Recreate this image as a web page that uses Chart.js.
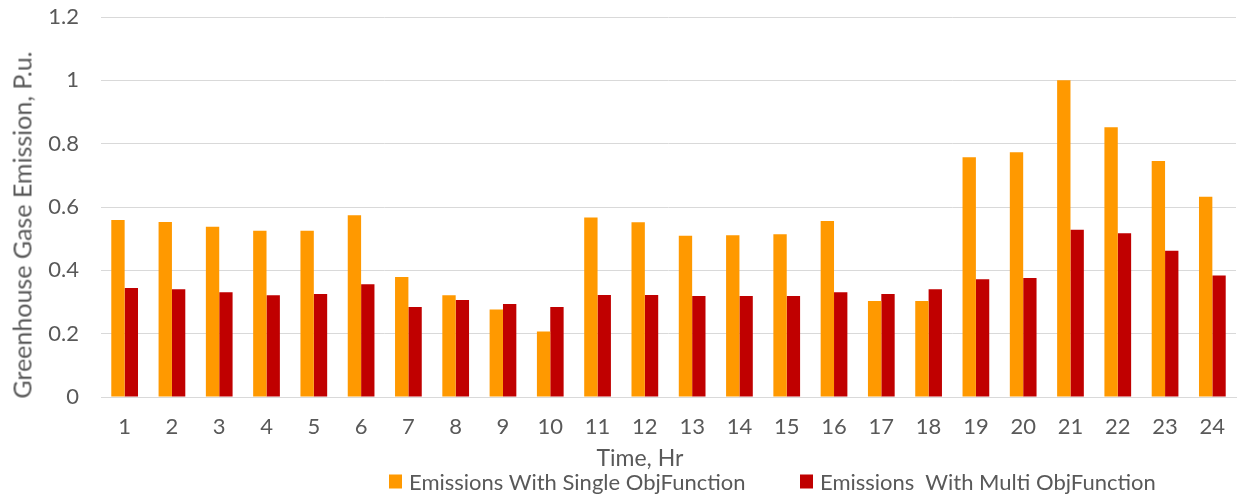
<!DOCTYPE html>
<html>
<head>
<meta charset="utf-8">
<script src="https://cdn.jsdelivr.net/npm/chart.js@4.4.1/dist/chart.umd.min.js"></script>
<style>
  html, body { margin: 0; padding: 0; background: #ffffff; }
  #wrap { position: relative; width: 1238px; height: 494px; overflow: hidden; font-family: Lato, "Open Sans", sans-serif; color: #595959; }
  canvas { position: absolute; left: 0; top: 0; }
  .txt { position: absolute; white-space: pre; line-height: 1; }
  #ytitle { left: 22px; top: 225px; font-size: 25px; transform: translate(-50%, -50%) rotate(-90deg); }
  #xtitle { left: 640px; top: 457px; font-size: 23px; transform: translate(-50%, -50%); }
  .leg { position: absolute; top: 481px; transform: translateY(-50%); font-size: 22px; display: flex; align-items: center; white-space: pre; }
  .box { width: 13px; height: 14px; margin-right: 7px; display: inline-block; }
</style>
</head>
<body>
<div id="wrap">
  <canvas id="c" width="1238" height="494"></canvas>
  <div id="ytitle" class="txt">Greenhouse Gase Emission, P.u.</div>
  <div id="xtitle" class="txt">Time, Hr</div>
  <div class="leg" id="leg1" style="left:389px;"><span class="box" style="background:#FF9900"></span><span id="l1"></span></div>
  <div class="leg" id="leg2" style="left:800px;"><span class="box" style="background:#C00000"></span><span id="l2"></span></div>
</div>
<script>
const hours = ['1','2','3','4','5','6','7','8','9','10','11','12','13','14','15','16','17','18','19','20','21','22','23','24'];
const singleObj = [0.559,0.553,0.538,0.525,0.525,0.574,0.379,0.321,0.276,0.207,0.567,0.552,0.509,0.511,0.514,0.556,0.303,0.303,0.757,0.773,1.0,0.852,0.745,0.632];
const multiObj  = [0.344,0.340,0.331,0.321,0.325,0.356,0.284,0.306,0.294,0.284,0.322,0.322,0.319,0.319,0.319,0.331,0.325,0.340,0.372,0.376,0.528,0.517,0.462,0.384];
const yTickLabels = ['0','0.2','0.4','0.6','0.8','1','1.2'];
const seriesNames = ['Emissions With Single ObjFunction', 'Emissions  With Multi ObjFunction'];

document.getElementById('l1').textContent = seriesNames[0];
document.getElementById('l2').textContent = seriesNames[1];

const textColor = '#595959';
const gridColor = '#d9d9d9';

new Chart(document.getElementById('c'), {
  type: 'bar',
  data: {
    labels: hours,
    datasets: [
      { label: seriesNames[0], data: singleObj, backgroundColor: '#FF9900', categoryPercentage: 0.565, barPercentage: 1.0 },
      { label: seriesNames[1], data: multiObj, backgroundColor: '#C00000', categoryPercentage: 0.565, barPercentage: 1.0 }
    ]
  },
  options: {
    responsive: false,
    animation: false,
    devicePixelRatio: 1,
    layout: { padding: { top: 17, right: 2, left: 0, bottom: 0 } },
    plugins: { legend: { display: false }, tooltip: { enabled: false } },
    scales: {
      x: {
        grid: { display: false, drawTicks: false },
        border: { color: gridColor, width: 1 },
        ticks: { color: textColor, font: { family: 'Lato', size: 22 }, padding: 17, maxRotation: 0, autoSkip: false },
        afterFit(scale) { scale.height = 97; scale.paddingLeft = 0; scale.paddingRight = 0; }
      },
      y: {
        min: 0, max: 1.2,
        grid: { color: gridColor, lineWidth: 1, drawTicks: false },
        border: { display: false },
        ticks: { stepSize: 0.2, color: textColor, font: { family: 'Lato', size: 22 }, padding: 22,
                 callback: (v, i) => yTickLabels[i] },
        afterFit(scale) { scale.width = 101; scale.paddingTop = 0; scale.paddingBottom = 0; }
      }
    }
  }
});
</script>
</body>
</html>
